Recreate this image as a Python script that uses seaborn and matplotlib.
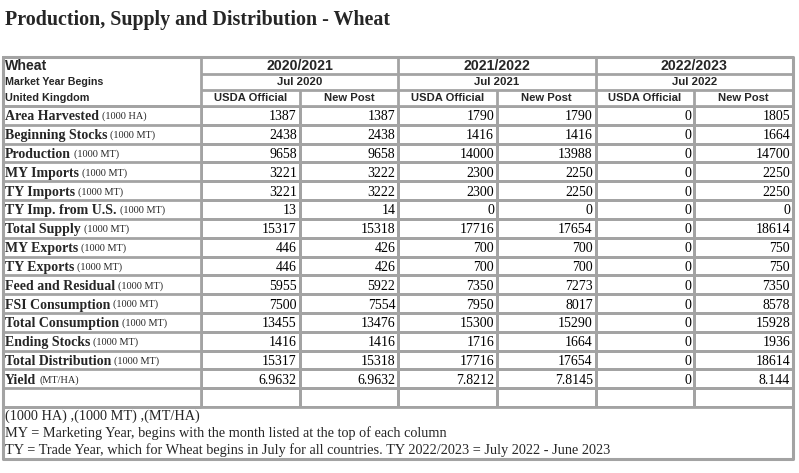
import matplotlib
matplotlib.use("Agg")
import matplotlib.pyplot as plt
import numpy as np
import seaborn as sns
from matplotlib.colors import ListedColormap


title = "Production, Supply and Distribution - Wheat"
years = ["2020/2021", "2021/2022", "2022/2023"]
begins = ["Jul 2020", "Jul 2021", "Jul 2022"]
sources = ["USDA Official", "New Post"]
header_labels = ["Wheat", "Market Year Begins", "United Kingdom"]

attributes = [
    "Area Harvested", "Beginning Stocks", "Production", "MY Imports", "TY Imports",
    "TY Imp. from U.S.", "Total Supply", "MY Exports", "TY Exports", "Feed and Residual",
    "FSI Consumption", "Total Consumption", "Ending Stocks", "Total Distribution", "Yield",
]
units = ["(1000 HA)"] + ["(1000 MT)"] * 13 + ["(MT/HA)"]

usda_2020 = [1387, 2438, 9658, 3221, 3221, 13, 15317, 446, 446, 5955, 7500, 13455, 1416, 15317, 6.9632]
post_2020 = [1387, 2438, 9658, 3222, 3222, 14, 15318, 426, 426, 5922, 7554, 13476, 1416, 15318, 6.9632]
usda_2021 = [1790, 1416, 14000, 2300, 2300, 0, 17716, 700, 700, 7350, 7950, 15300, 1716, 17716, 7.8212]
post_2021 = [1790, 1416, 13988, 2250, 2250, 0, 17654, 700, 700, 7273, 8017, 15290, 1664, 17654, 7.8145]
usda_2022 = [0, 0, 0, 0, 0, 0, 0, 0, 0, 0, 0, 0, 0, 0, 0]
post_2022 = [1805, 1664, 14700, 2250, 2250, 0, 18614, 750, 750, 7350, 8578, 15928, 1936, 18614, 8.144]

footnotes = [
    "(1000 HA) ,(1000 MT) ,(MT/HA)",
    "MY = Marketing Year, begins with the month listed at the top of each column",
    "TY = Trade Year, which for Wheat begins in July for all countries. TY 2022/2023 = July 2022 - June 2023",
]

W, H = 799, 473
GRID = "#a3a3a3"
SERIF = "Liberation Serif"
SANS = "Liberation Sans"

# table geometry in pixels
LEFT, RIGHT, TOP, BOTTOM = 3, 793, 57, 459
COL0 = 201
HDR = [57, 74, 90, 106]
DATA_BOTTOM = 407

sns.set_theme(style="white")
fig = plt.figure(figsize=(W / 100, H / 100), dpi=100)

columns = [usda_2020, post_2020, usda_2021, post_2021, usda_2022, post_2022]
n_rows = len(attributes) + 1  # one empty row at the end
values = np.zeros((n_rows, len(columns)))

ax_hm = fig.add_axes([COL0 / W, 1 - DATA_BOTTOM / H, (RIGHT - COL0) / W, (DATA_BOTTOM - HDR[3]) / H])
ax_hm.set_zorder(1)
sns.heatmap(
    values, cmap=ListedColormap(["white"]), cbar=False, linewidths=2, linecolor=GRID,
    xticklabels=False, yticklabels=False, ax=ax_hm,
)
for j, col in enumerate(columns):
    for i, v in enumerate(col):
        ax_hm.text(j + 0.97, i + 0.5, f"{v:g}", ha="right", va="center_baseline",
                   fontsize=10, family=SERIF, color="black")

ax = fig.add_axes([0, 0, 1, 1])
ax.set_zorder(2)
ax.patch.set_alpha(0)
ax.set_xlim(0, W)
ax.set_ylim(H, 0)
ax.axis("off")

row_h = (DATA_BOTTOM - HDR[3]) / n_rows
col_w = (RIGHT - COL0) / len(columns)

# borders
ax.plot([LEFT, RIGHT, RIGHT, LEFT, LEFT], [TOP, TOP, BOTTOM, BOTTOM, TOP], color=GRID, lw=2.2)
ax.hlines([HDR[1], HDR[2]], COL0, RIGHT, color=GRID, lw=2)
ax.hlines([HDR[3] + k * row_h for k in range(n_rows + 1)], LEFT, COL0, color=GRID, lw=2)
ax.hlines([HDR[3], DATA_BOTTOM], LEFT, RIGHT, color=GRID, lw=2)
ax.vlines(COL0, TOP, DATA_BOTTOM, color=GRID, lw=2)
ax.vlines([COL0 + 2 * col_w, COL0 + 4 * col_w], TOP, HDR[3], color=GRID, lw=2)
ax.vlines([COL0 + col_w, COL0 + 3 * col_w, COL0 + 5 * col_w], HDR[2], HDR[3], color=GRID, lw=2)

ax.text(5, 20, title, ha="left", va="center", fontsize=14.4, fontweight="bold", family=SERIF)

header_sizes = [10.2, 7.7, 7.8]
for k, lab in enumerate(header_labels):
    ax.text(5, (HDR[k] + HDR[k + 1]) / 2, lab, ha="left", va="center", fontsize=header_sizes[k],
            fontweight="bold", family=SANS)
for g in range(3):
    cx = COL0 + (2 * g + 1) * col_w
    ax.text(cx, (HDR[0] + HDR[1]) / 2, years[g], ha="center", va="center", fontsize=10.2,
            fontweight="bold", family=SANS)
    ax.text(cx, (HDR[1] + HDR[2]) / 2, begins[g], ha="center", va="center", fontsize=8.2,
            fontweight="bold", family=SANS)
    for s, src in enumerate(sources):
        ax.text(COL0 + (2 * g + s + 0.5) * col_w, (HDR[2] + HDR[3]) / 2, src, ha="center",
                va="center", fontsize=8.1, fontweight="bold", family=SANS)

labels = []
for i, name in enumerate(attributes):
    y = HDR[3] + (i + 0.5) * row_h
    labels.append(ax.text(5, y, name, ha="left", va="center_baseline", fontsize=10,
                          fontweight="bold", family=SERIF))

fig.canvas.draw()
renderer = fig.canvas.get_renderer()
inv = ax.transData.inverted()
for i, (t, unit) in enumerate(zip(labels, units)):
    bb = t.get_window_extent(renderer)
    x_end = inv.transform((bb.x1, bb.y0))[0]
    ax.text(x_end + 3, HDR[3] + (i + 0.5) * row_h, unit, ha="left", va="center_baseline",
            fontsize=7.4, family=SERIF)

for k, note in enumerate(footnotes):
    ax.text(5, 416 + k * 17, note, ha="left", va="center", fontsize=10.3, family=SERIF)

fig.savefig("out.png", dpi=100)
